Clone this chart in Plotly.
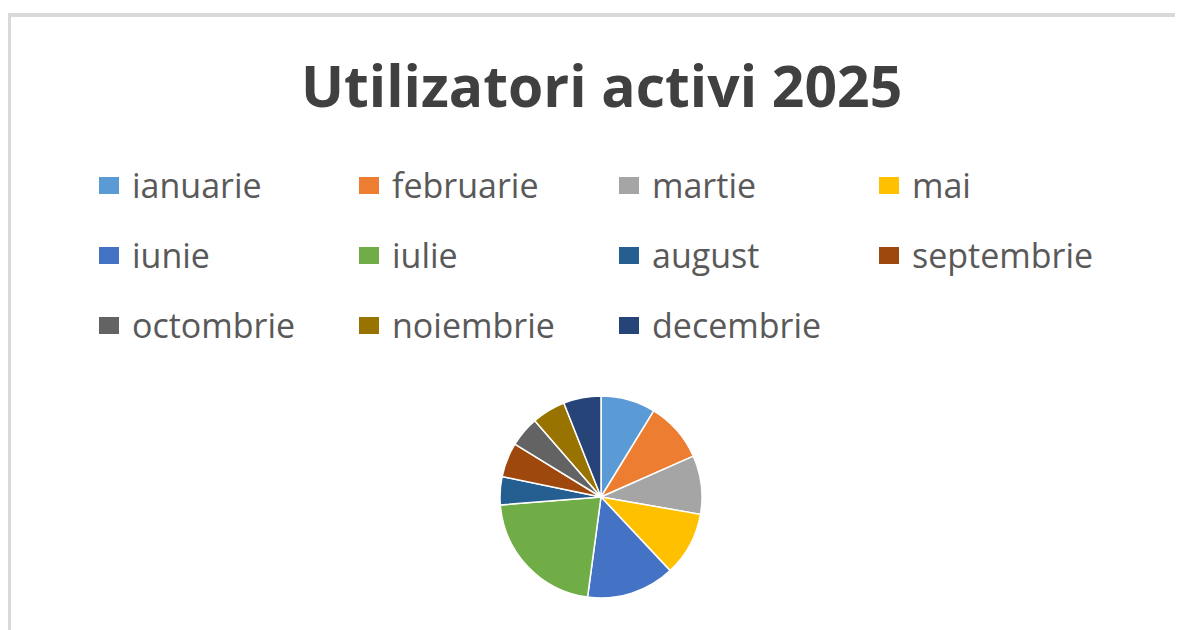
import plotly.graph_objects as go

months = ["ianuarie", "februarie", "martie", "mai", "iunie", "iulie",
          "august", "septembrie", "octombrie", "noiembrie", "decembrie"]
users = [350, 385, 375, 410, 565, 865, 180, 220, 195, 215, 240]
colors = ["#5B9BD5", "#ED7D31", "#A5A5A5", "#FFC000", "#4472C4", "#70AD47",
          "#255E91", "#9E480E", "#636363", "#997300", "#264478"]
title_text = "Utilizatori activi 2025"

W, H = 1183, 630
OFF = 8  # page body margin


def px(x):
    return (x - OFF) / W


def py(y):
    return (H - (y - OFF)) / H


R = 101
cx, cy = 601, 497
fig = go.Figure(go.Pie(
    labels=months, values=users, sort=False, direction="clockwise", rotation=0,
    marker=dict(colors=colors, line=dict(color="white", width=1.5)),
    textinfo="none", hoverinfo="label+value+percent", showlegend=False,
    domain=dict(x=[px(cx - R - 40), px(cx + R + 40)], y=[py(cy + R), py(cy - R)]),
))

# legend drawn as 4-column grid
col_x = [99, 359, 619, 879]
row_y = [185, 255, 325]
shapes = []
annotations = []
for i, (m, c) in enumerate(zip(months, colors)):
    r, k = divmod(i, 4)
    x0, yc = col_x[k], row_y[r]
    shapes.append(dict(type="rect", xref="paper", yref="paper",
                       x0=px(x0), x1=px(x0 + 20),
                       y0=py(yc + 9), y1=py(yc - 8),
                       fillcolor=c, line=dict(width=0)))
    annotations.append(dict(text=m, xref="paper", yref="paper",
                            x=px(x0 + 31), y=py(yc),
                            xanchor="left", yanchor="middle", showarrow=False,
                            font=dict(family="Open Sans", size=34, color="#595959")))

# frame
shapes.append(dict(type="line", xref="paper", yref="paper", x0=px(9), x1=1.0,
                   y0=py(15), y1=py(15), line=dict(color="#D9D9D9", width=4)))
shapes.append(dict(type="line", xref="paper", yref="paper", x0=px(9), x1=px(9),
                   y0=0, y1=py(13), line=dict(color="#D9D9D9", width=4)))

annotations.append(dict(text="<b>" + title_text + "</b>", xref="paper", yref="paper",
                        x=px(601), y=py(85), xanchor="center", yanchor="middle",
                        showarrow=False,
                        font=dict(family="Open Sans", size=57, color="#404040")))

fig.update_layout(width=W, height=H, margin=dict(l=0, r=0, t=0, b=0),
                  paper_bgcolor="white", plot_bgcolor="white",
                  shapes=shapes, annotations=annotations)
fig.write_html("out.html")
